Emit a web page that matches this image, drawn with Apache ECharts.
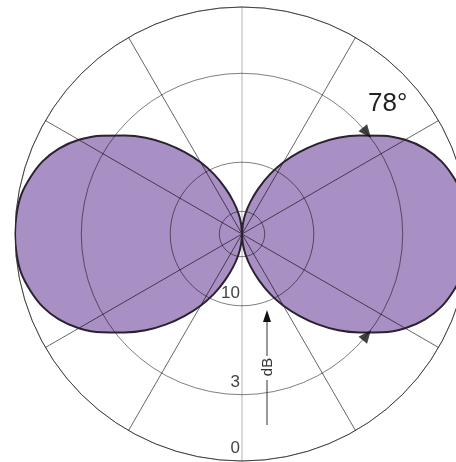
<!DOCTYPE html>
<html>
<head>
<meta charset="utf-8">
<script src="https://cdn.jsdelivr.net/npm/echarts@6/dist/echarts.min.js"></script>
<style>
  html, body { margin: 0; padding: 0; background: #fff; }
  #chart { width: 456px; height: 462px; }
</style>
</head>
<body>
<div id="chart"></div>
<script>
// rings of the dB scale (radius is linear in amplitude)
const ringDb = [20, 10, 3, 0]
const labelDb = [10, 3, 0]
// spokes, degrees counter-clockwise from east (no horizontal spoke)
const spokeAngles = [30, 60, 90, 120, 150, 210, 240, 270, 300, 330]
// one quarter of the lobe: offset from lobe axis (deg) -> relative amplitude
const lobeOffset = [0, 5, 10, 15, 20, 25, 30, 35, 40, 45, 50, 55, 60, 65, 70, 75, 80, 85, 90]
const lobeLevel = [1.0, 0.997, 0.988, 0.965, 0.935, 0.89, 0.83, 0.755, 0.675, 0.6, 0.52, 0.44, 0.365, 0.29, 0.215, 0.15, 0.095, 0.045, 0]
// half-power beamwidth
const beamwidth = 78
const halfPowerDb = 3

const dbToAmp = (db) => Math.pow(10, -db / 20)
// angle axis starts pointing down (270), counter-clockwise
const toAxis = (deg) => ((deg + 90) % 360 + 360) % 360

// both lobes, walking the axis from 0 to 360
const patternData = []
for (let a = 0; a <= 360; a += 5) {
  const off = Math.abs((a % 180) - 90)
  patternData.push([lobeLevel[lobeOffset.indexOf(off)], a])
}

const half = beamwidth / 2
const markerData = [
  { value: [dbToAmp(halfPowerDb), toAxis(half)], symbolRotate: -141 },
  { value: [dbToAmp(halfPowerDb), toAxis(-half)], symbolRotate: -39 },
]

const spokeTicks = spokeAngles.map(toAxis).sort((p, q) => p - q)

const myChart = echarts.init(document.getElementById('chart'))

const option = {
  animation: false,
  polar: {
    center: [242, 234],
    radius: 227,
  },
  angleAxis: {
    type: 'value',
    min: 0,
    max: 360,
    startAngle: 270,
    clockwise: false,
    z: 3,
    axisLine: { show: true, lineStyle: { color: 'rgba(0,0,0,0.5)', width: 1 } },
    axisTick: { show: false, customValues: spokeTicks },
    axisLabel: { show: false },
    splitLine: {
      show: true,
      lineStyle: {
        color: spokeTicks.map((a) => (a === 0 || a === 180) ? 'rgba(0,0,0,0.3)' : 'rgba(0,0,0,0.6)'),
        width: 1,
      },
    },
  },
  radiusAxis: {
    type: 'value',
    min: 0,
    max: 1,
    z: 3,
    axisLine: { show: false },
    axisTick: { show: false, customValues: ringDb.map(dbToAmp) },
    axisLabel: {
      show: true,
      customValues: labelDb.map(dbToAmp),
      formatter: (v) => String(Math.round(-20 * Math.log10(v))),
      fontFamily: 'Liberation Sans, Arial, sans-serif',
      fontSize: 17,
      color: '#444',
      align: 'right',
      verticalAlign: 'bottom',
      padding: [0, 4, 4, 0],
      margin: 2,
    },
    splitLine: { show: true, lineStyle: { color: 'rgba(0,0,0,0.5)', width: 1 } },
  },
  series: [
    {
      name: 'fill',
      type: 'line',
      coordinateSystem: 'polar',
      data: patternData,
      smooth: 0.3,
      symbol: 'none',
      z: 1,
      lineStyle: { width: 0 },
      areaStyle: { color: '#a990c4', opacity: 1 },
    },
    {
      name: 'pattern',
      type: 'line',
      coordinateSystem: 'polar',
      data: patternData,
      smooth: 0.3,
      symbol: 'none',
      z: 4,
      lineStyle: { color: '#2a2230', width: 2 },
    },
    {
      name: 'beamwidth',
      type: 'scatter',
      coordinateSystem: 'polar',
      symbol: 'triangle',
      symbolSize: [11, 13],
      z: 5,
      itemStyle: { color: '#111' },
      data: markerData,
    },
  ],
  graphic: [
    {
      type: 'text',
      left: 368,
      top: 91,
      z: 10,
      style: { text: beamwidth + '°', font: '26px "Liberation Sans", Arial, sans-serif', fill: '#222' },
    },
    {
      type: 'text',
      x: 268,
      y: 367,
      rotation: Math.PI / 2,
      z: 10,
      style: { text: 'dB', font: '15px "Liberation Sans", Arial, sans-serif', fill: '#333', align: 'center', verticalAlign: 'middle' },
    },
    { type: 'line', z: 10, shape: { x1: 267, y1: 320, x2: 267, y2: 356 }, style: { stroke: '#333', lineWidth: 1 } },
    { type: 'line', z: 10, shape: { x1: 267, y1: 380, x2: 267, y2: 425 }, style: { stroke: '#333', lineWidth: 1 } },
    { type: 'polygon', z: 10, shape: { points: [[267, 310], [263, 322], [271, 322]] }, style: { fill: '#111' } },
  ],
}

myChart.setOption(option)
</script>
</body>
</html>
